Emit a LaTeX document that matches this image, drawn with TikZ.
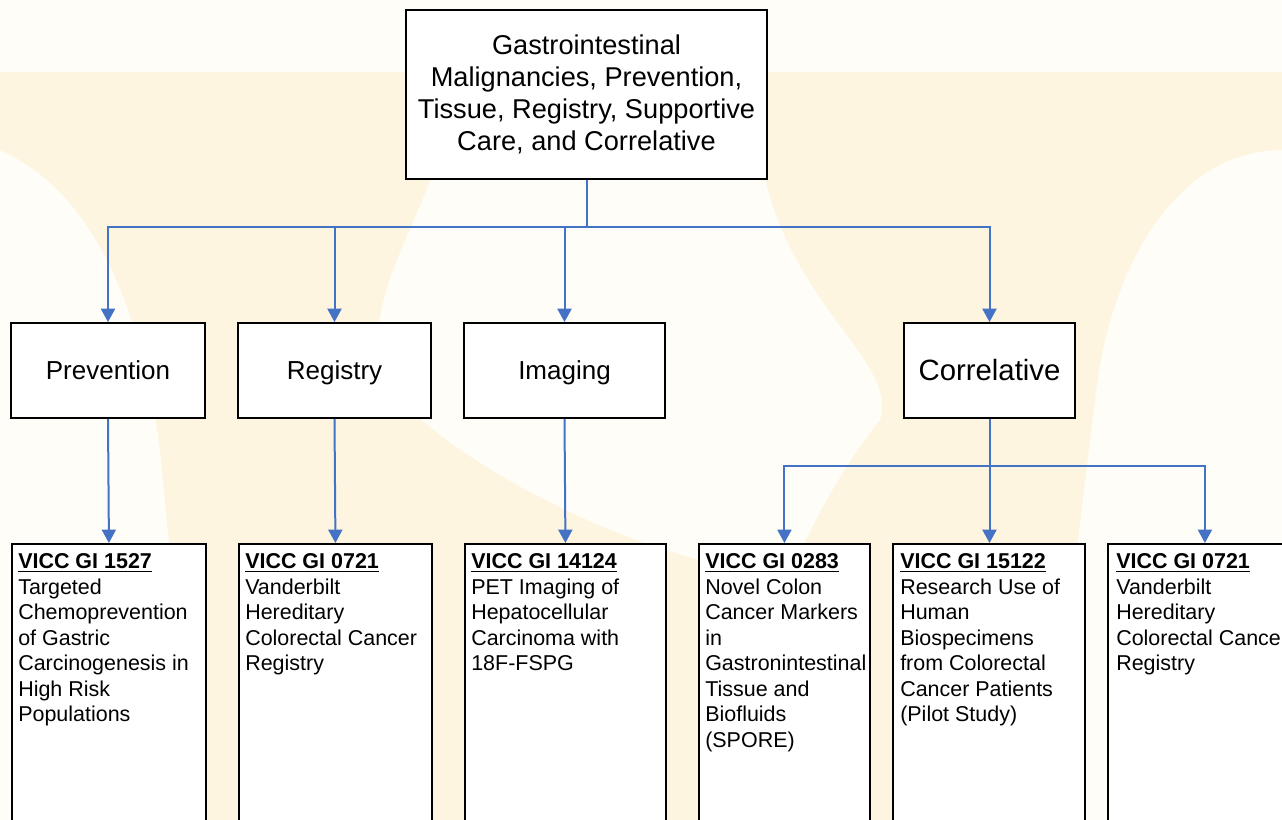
\documentclass[tikz,border=0pt]{standalone}
\usepackage{fontspec}
\setmainfont{Liberation Sans}
\usepackage{xcolor}
\usetikzlibrary{positioning}
\usetikzlibrary{arrows.meta}
\definecolor{C0}{HTML}{4472C4}
\definecolor{wpaper}{HTML}{FFFDF8}
\definecolor{wmark}{HTML}{FEF5E1}

\begin{document}
\begin{tikzpicture}[x=0.75pt,y=-0.75pt,
  box/.style={draw=black, line width=1.4pt, fill=white, inner sep=0pt},
  topbox/.style={box, align=center, font=\fontsize{20.4}{24}\selectfont},
  areabox/.style={box, minimum height=71.25pt, text height=14pt, text depth=0pt, font=\fontsize{19.5}{22}\selectfont},
  trialbox/.style={box, anchor=north west, minimum height=240pt},
  trialtext/.style={anchor=north west, inner sep=0pt, align=left, font=\fontsize{16.1}{19.1}\selectfont},
  link/.style={C0, line width=1.5pt},
  arr/.style={link, -{Triangle[width=10.5pt,length=10pt]}}]
\def \px {0.75pt}
\def \vicc #1{\textbf{\underline{#1}}}
\useasboundingbox (0,0) rectangle (1282,820);
\clip (0,0) rectangle (1282,820);
% background
\fill[wpaper] (0,0) rectangle (1282,820);
\fill[wmark] (0,72) rectangle (1282,150);
\fill[wmark] (0,150) .. controls (90,190) and (140,300) .. (160,450) .. controls (175,600) and (185,720) .. (195,820) -- (700,820) .. controls (695,700) and (720,600) .. (700,560) .. controls (620,540) and (480,480) .. (400,400) .. controls (340,330) and (420,230) .. (440,150) -- cycle;
\fill[wmark] (760,150) -- (1282,150) .. controls (1180,150) and (1110,260) .. (1095,400) .. controls (1075,560) and (1060,700) .. (1045,820) -- (720,820) .. controls (740,680) and (800,520) .. (880,420) .. controls (900,360) and (780,300) .. (760,150) -- cycle;

% top
\node[topbox, minimum width=361*\px, minimum height=169*\px] (top) at (586.5,94.5)
  {Gastrointestinal\\Malignancies, Prevention,\\Tissue, Registry, Supportive\\Care, and Correlative};

% second row
\node[areabox, minimum width=194*\px] (prev) at (108,370.5) {Prevention};
\node[areabox, minimum width=193*\px] (reg) at (334.5,370.5) {Registry};
\node[areabox, minimum width=201*\px] (img) at (564.5,370.5) {Imaging};
\node[areabox, minimum width=171*\px, text height=15.5pt, font=\fontsize{22}{25}\selectfont] (corr) at (989.5,370.5) {Correlative};

% third row
\node[trialbox, minimum width=194*\px] (g1527) at (11,543) {};
\node[trialbox, minimum width=193*\px] (g0721) at (238,543) {};
\node[trialbox, minimum width=201*\px] (g14124) at (464,543) {};
\node[trialbox, minimum width=171*\px] (g0283) at (698,543) {};
\node[trialbox, minimum width=192*\px] (g15122) at (892,543) {};
\node[trialbox, minimum width=194*\px] (g0721b) at (1107,543) {};

\node[trialtext] (t1527) at (18,553.5) {\vicc{VICC GI 1527}\\Targeted\\Chemoprevention\\of Gastric\\Carcinogenesis in\\High Risk\\Populations};
\node[trialtext] (t0721) at (245,553.5) {\vicc{VICC GI 0721}\\Vanderbilt\\Hereditary\\Colorectal Cancer\\Registry};
\node[trialtext] (t14124) at (471,553.5) {\vicc{VICC GI 14124}\\PET Imaging of\\Hepatocellular\\Carcinoma with\\18F-FSPG};
\node[trialtext] (t0283) at (705,553.5) {\vicc{VICC GI 0283}\\Novel Colon\\Cancer Markers\\in\\Gastronintestinal\\Tissue and\\Biofluids\\(SPORE)};
\node[trialtext] (t15122) at (900,553.5) {\vicc{VICC GI 15122}\\Research Use of\\Human\\Biospecimens\\from Colorectal\\Cancer Patients\\(Pilot Study)};
\node[trialtext] (t0721b) at (1116,553.5) {\vicc{VICC GI 0721}\\Vanderbilt\\Hereditary\\Colorectal Cancer\\Registry};

% connectors
\coordinate (split) at (586.5,227);
\coordinate (csplit) at (989.5,466);
\draw[link] (top.south) -- (split);
\draw[arr] (split) -| (prev.north);
\draw[arr] (split) -| (reg.north);
\draw[arr] (split) -| (img.north);
\draw[arr] (split) -| (corr.north);
\draw[arr] (prev.south) -- (g1527.north);
\draw[arr] (reg.south) -- (g0721.north);
\draw[arr] (img.south) -- (g14124.north);
\draw[link] (corr.south) -- (csplit);
\draw[arr] (csplit) -| (g0283.north);
\draw[arr] (csplit) -- (g15122.north -| csplit);
\draw[arr] (csplit) -| (g0721b.north);
\end{tikzpicture}
\end{document}
